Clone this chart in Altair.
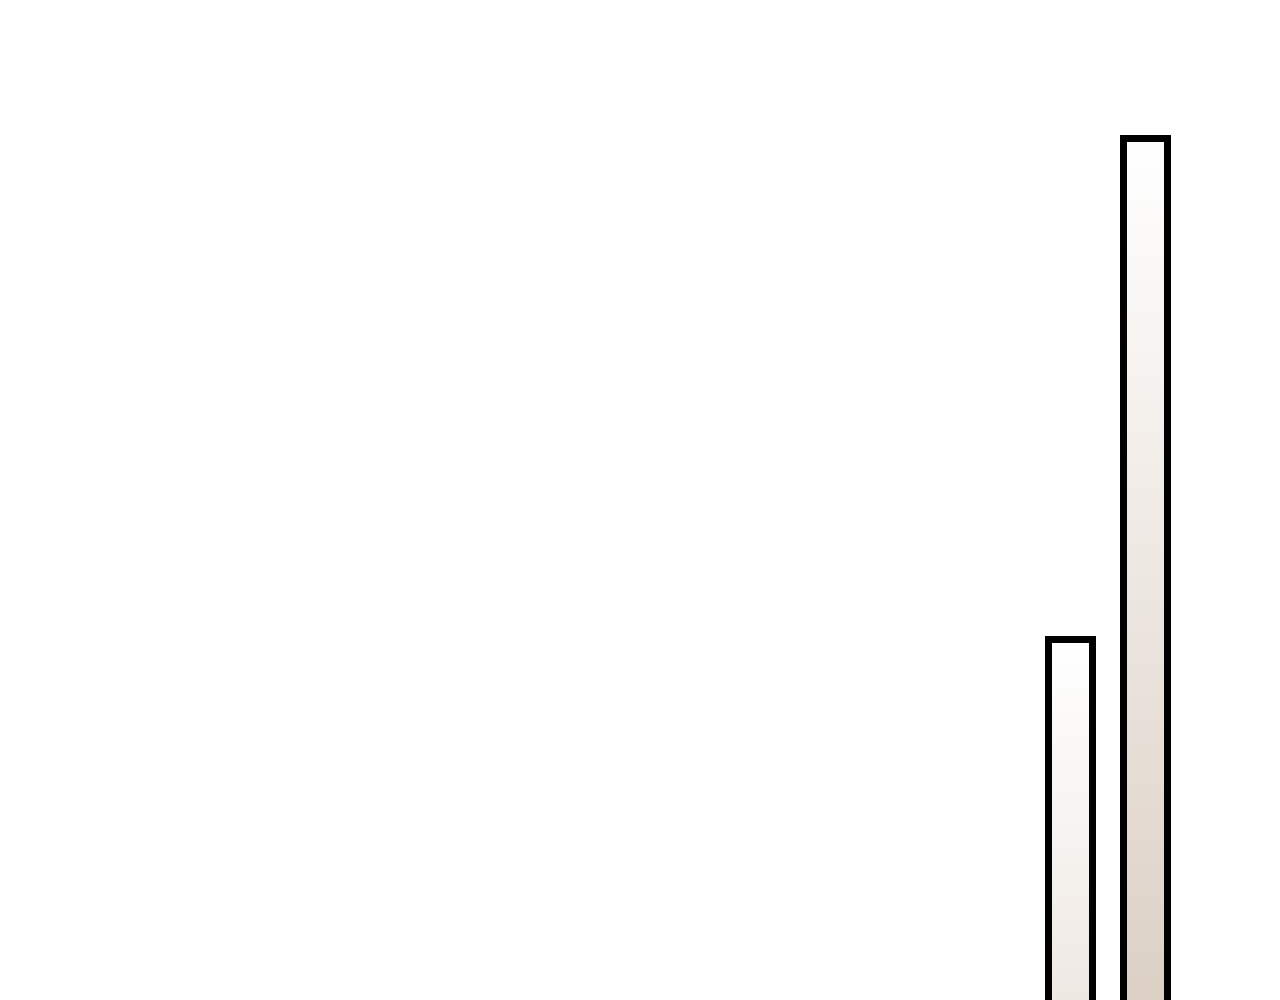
import altair as alt
import pandas as pd

# Values (only the tops of two bars are visible)
categories = ["A", "B"]
values = [12.08, 14.0]

df = pd.DataFrame({"category": categories, "value": values})

gradient = alt.LinearGradient(
    gradient="linear",
    stops=[
        alt.GradientStop(color="#ffffff", offset=0),
        alt.GradientStop(color="#6b3809", offset=1),
    ],
    x1=0, x2=0, y1=0, y2=1,
)

chart = (
    alt.Chart(df)
    .mark_bar(color=gradient, stroke="black", strokeWidth=7, strokeJoin="miter")
    .encode(
        x=alt.X(
            "category:N",
            axis=None,
            scale=alt.Scale(paddingInner=0.41333, paddingOuter=0, range=[1040.5, 1159.5]),
        ),
        y=alt.Y("value:Q", axis=None, scale=alt.Scale(domain=[0, 14.5], nice=False, zero=True)),
    )
    .properties(
        width=1200,
        height=3784.5,
        padding=0,
        background="white",
        autosize=alt.AutoSizeParams(type="none"),
    )
    .configure_view(stroke=None, strokeWidth=0)
)

chart.save("out.html", embed_options={"renderer": "svg", "actions": False})
